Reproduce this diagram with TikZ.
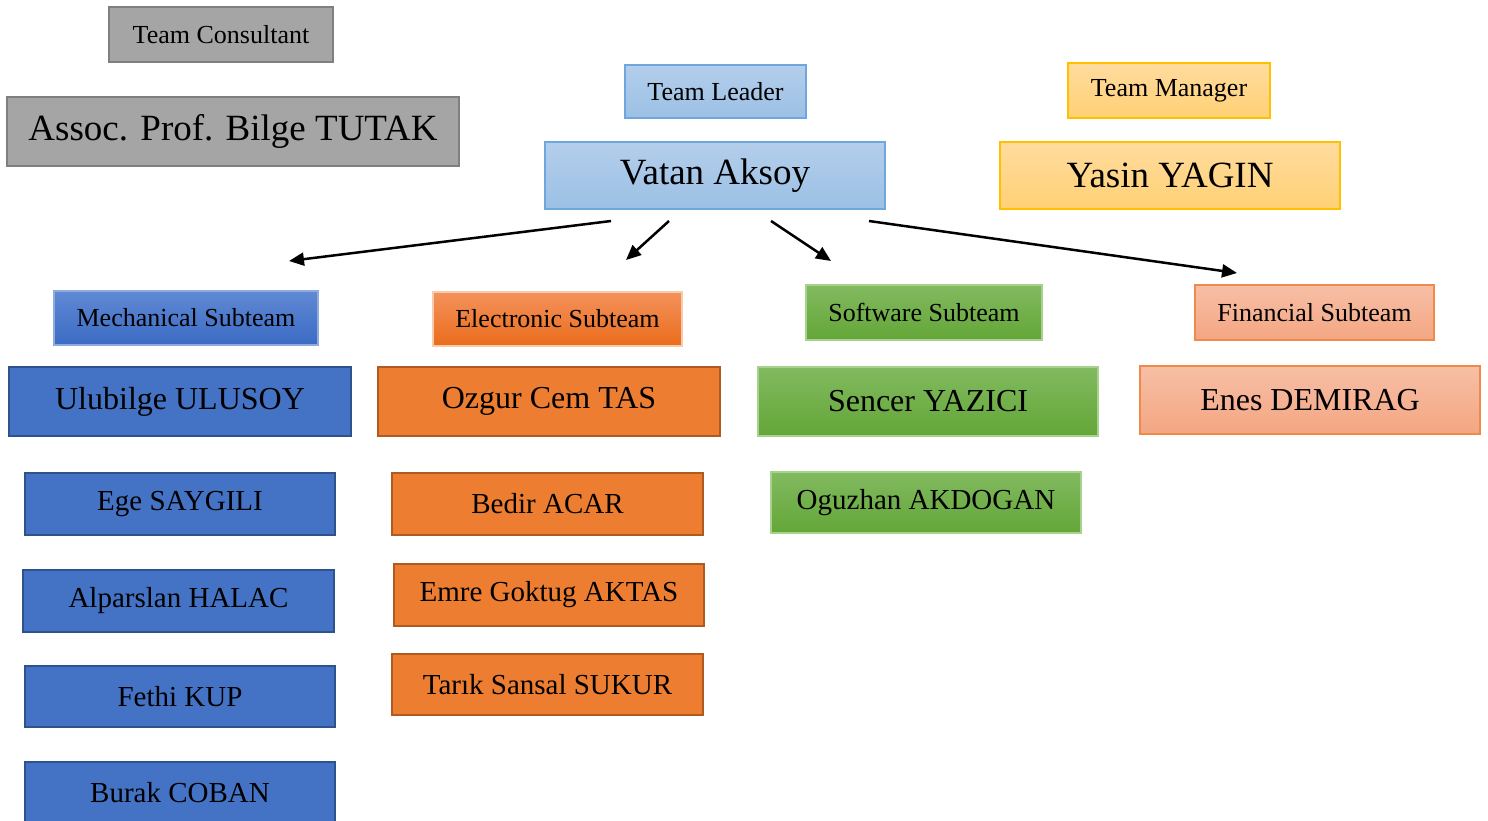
\documentclass[tikz,border=0pt]{standalone}
\usepackage{fontspec}
\setmainfont{Liberation Serif}
\usetikzlibrary{arrows.meta}
\definecolor{grayF}{HTML}{A5A5A5}
\definecolor{grayB}{HTML}{7F7F7F}
\definecolor{ltBlueT}{HTML}{B4CEEB}
\definecolor{ltBlueB}{HTML}{9BC0E5}
\definecolor{ltBlueD}{HTML}{6FA6DB}
\definecolor{yelT}{HTML}{FFDB9E}
\definecolor{yelB}{HTML}{FFD175}
\definecolor{yelD}{HTML}{FFC000}
\definecolor{mecT}{HTML}{6189D4}
\definecolor{mecB}{HTML}{3A6BC4}
\definecolor{mecD}{HTML}{8FAADC}
\definecolor{mecF}{HTML}{4472C4}
\definecolor{mecE}{HTML}{2F528F}
\definecolor{eleT}{HTML}{F4925C}
\definecolor{eleB}{HTML}{EA6C1B}
\definecolor{eleD}{HTML}{F8CBAD}
\definecolor{eleF}{HTML}{ED7D31}
\definecolor{eleE}{HTML}{AE5A21}
\definecolor{sofT}{HTML}{82BA60}
\definecolor{sofB}{HTML}{63A637}
\definecolor{sofD}{HTML}{A9D18E}
\definecolor{finT}{HTML}{F7BFA6}
\definecolor{finB}{HTML}{F4A682}
\definecolor{finD}{HTML}{F08A4B}
\tikzset{
  box/.style={rectangle, inner sep=0pt, align=center, text=black},
  small/.style={font=\fontsize{26}{30}\selectfont},
  big/.style={font=\fontsize{37}{42}\selectfont},
  head/.style={font=\fontsize{32}{36}\selectfont},
  memb/.style={font=\fontsize{29}{33}\selectfont},
  graybox/.style={box, fill=grayF, draw=grayB, line width=2pt},
  leadbox/.style={box, top color=ltBlueT, bottom color=ltBlueB, draw=ltBlueD, line width=1.5pt},
  manbox/.style={box, top color=yelT, bottom color=yelB, draw=yelD, line width=1.5pt},
  mecsub/.style={box, top color=mecT, bottom color=mecB, draw=mecD, line width=1.2pt},
  mecmem/.style={box, fill=mecF, draw=mecE, line width=2pt},
  elesub/.style={box, top color=eleT, bottom color=eleB, draw=eleD, line width=1.2pt},
  elemem/.style={box, fill=eleF, draw=eleE, line width=2pt},
  sofbox/.style={box, top color=sofT, bottom color=sofB, draw=sofD, line width=1.2pt},
  finbox/.style={box, top color=finT, bottom color=finB, draw=finD, line width=1.5pt},
  arr/.style={line width=2.5pt, -{Triangle[length=15pt,width=13pt]}}
}
\begin{document}
\begin{tikzpicture}[x=1pt,y=-1pt]
\clip (0,0) rectangle (1488,821);
\fill[white] (0,0) rectangle (1488,821);
% top row
\node[graybox, small, minimum width=224, minimum height=55] (cons) at (221,34.5) {Team Consultant};
\node[graybox, big, minimum width=452, minimum height=69] (prof) at (233,131.5) {Assoc. Prof. Bilge TUTAK};
\node[leadbox, small, minimum width=181, minimum height=53] (tl) at (715.5,91.5) {Team Leader};
\node[leadbox, big, minimum width=340, minimum height=67] (vatan) at (715,175.5) {Vatan Aksoy};
\node[manbox, small, minimum width=202, minimum height=55] (tm) at (1169,90.5) {Team Manager};
\node[manbox, big, minimum width=340, minimum height=67] (yasin) at (1170,175.5) {Yasin YAGIN};
% subteams
\node[mecsub, small, minimum width=264, minimum height=54] (mec) at (186,318) {Mechanical Subteam};
\node[elesub, small, minimum width=249, minimum height=54] (ele) at (557.5,319) {Electronic Subteam};
\node[sofbox, small, minimum width=236, minimum height=55] (sof) at (924,312.5) {Software Subteam};
\node[finbox, small, minimum width=239, minimum height=55] (fin) at (1314.5,312.5) {Financial Subteam};
% heads
\node[mecmem, head, minimum width=342, minimum height=69] (ulu) at (180,401.5) {Ulubilge ULUSOY};
\node[elemem, head, minimum width=342, minimum height=69] (ozg) at (549,401.5) {Ozgur Cem TAS};
\node[sofbox, head, minimum width=340, minimum height=69] (sen) at (928,401.5) {Sencer YAZICI};
\node[finbox, head, minimum width=340, minimum height=68] (ene) at (1310,400) {Enes DEMIRAG};
% members
\node[mecmem, memb, minimum width=310, minimum height=62] (ege) at (180,504) {Ege SAYGILI};
\node[mecmem, memb, minimum width=311, minimum height=62] (alp) at (178.5,601) {Alparslan HALAC};
\node[mecmem, memb, minimum width=310, minimum height=61] (fet) at (180,696.5) {Fethi KUP};
\node[mecmem, memb, minimum width=310, minimum height=62] (bur) at (180,793) {Burak COBAN};
\node[elemem, memb, minimum width=311, minimum height=62] (bed) at (547.5,504) {Bedir ACAR};
\node[elemem, memb, minimum width=310, minimum height=62] (emr) at (549,595) {Emre Goktug AKTAS};
\node[elemem, memb, minimum width=311, minimum height=61] (tar) at (547.5,684.5) {Tarık Sansal SUKUR};
\node[sofbox, memb, minimum width=310, minimum height=61] (ogu) at (926,502.5) {Oguzhan AKDOGAN};
% arrows
\coordinate (s1) at (611,221);
\coordinate (e1) at (289,261);
\coordinate (s2) at (669,221);
\coordinate (e2) at (626,260);
\coordinate (s3) at (771,221);
\coordinate (e3) at (831,261);
\coordinate (s4) at (869,221);
\coordinate (e4) at (1237,273);
\draw[arr] (s1) -- (e1);
\draw[arr] (s2) -- (e2);
\draw[arr] (s3) -- (e3);
\draw[arr] (s4) -- (e4);
\end{tikzpicture}
\end{document}
